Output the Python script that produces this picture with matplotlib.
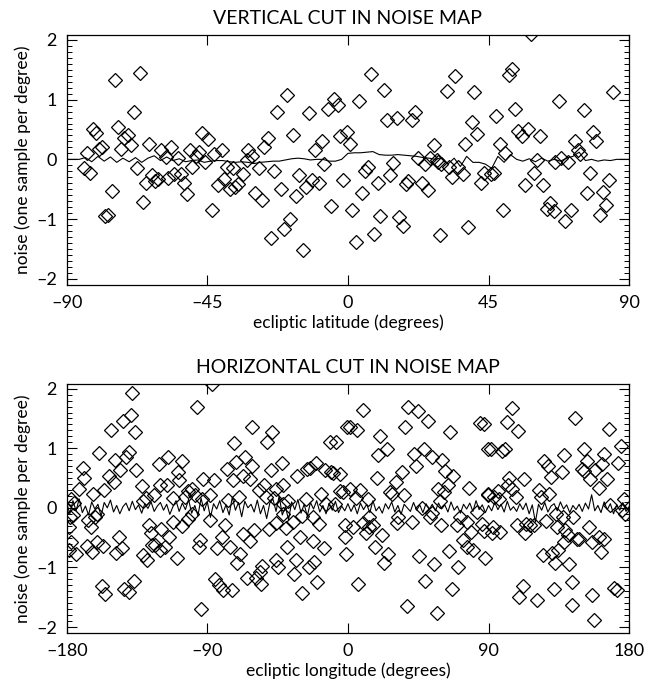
import numpy as np
import matplotlib
matplotlib.use("Agg")
import matplotlib.pyplot as plt
from matplotlib.ticker import MultipleLocator

# ── Top panel: vertical cut (ecliptic latitude) ──────────────────────────────
lat_pts = [
    -83.6, -84.6, -82.7, -81.7, -80.7, -79.8, -78.6, -74.7, -75.6, -77.7,
    -76.9, -73.7, -72.6, -71.5, -70.5, -69.3, -68.5, -67.5, -66.4, -65.6,
    -64.7, -63.5, -62.6, -61.7, -60.7, -59.8, -58.3, -57.5, -56.6, -55.5,
    -54.5, -53.4, -52.3, -51.5, -50.6, -49.8, -48.7, -47.7, -46.8, -45.7,
    -44.7, -43.6, -42.8, -41.5, -40.4, -39.6, -38.7, -37.6, -36.7, -36.1,
    -35.1, -33.5, -32.4, -31.9,
    -30.6, -28.5, -29.6, -27.6, -26.8, -25.7, -24.6, -23.6, -22.6, -21.5,
    -20.5, -19.5, -18.4, -17.5, -16.6, -15.6, -14.5, -13.4, -12.5, -11.6,
    -10.6, -9.3, -8.4, -7.6, -6.5, -5.5, -4.6, -3.3, -2.5, -1.5,
    -0.4, 0.6, 1.4, 2.5, 3.5, 4.4, 5.4, 6.5, 7.4, 8.5,
    9.5, 10.4, 11.5, 12.6, 13.4, 14.5, 15.6, 16.4, 17.5, 18.6,
    19.3, 20.6, 21.4, 22.5, 23.6, 24.6, 25.5, 26.4, 27.4, 28.4,
    29.4,
    28.9, 29.7, 31.6, 32.3, 33.4, 34.4, 35.3, 36.7, 37.4, 38.3,
    39.6, 40.4, 41.3, 42.6, 43.6, 45.9, 46.8, 47.3, 48.6, 49.7,
    50.2, 51.5, 52.6, 53.4, 54.5, 55.8, 56.6, 57.6, 58.5, 59.6,
    60.6, 61.5, 62.5, 63.6, 64.6, 65.8, 66.2, 67.5, 68.3, 69.6,
    70.5, 71.5, 72.6, 73.5, 74.2, 75.6, 76.6, 77.4, 78.5, 79.5,
    80.6, 81.6, 82.7, 83.5, 84.9,
]
lat_noise = [
    0.10, -0.15, -0.23, 0.50, 0.44, 0.18, 0.20, 1.33, -0.53, -0.95,
    -0.93, 0.54, 0.17, 0.35, 0.41, 0.24, 0.79, -0.14, 1.45, -0.71,
    -0.40, 0.25, -0.26, -0.36, -0.33, 0.15, 0.04, -0.31, 0.20, -0.25,
    0.02, -0.25, -0.39, -0.58, 0.15, -0.12, 0.06, 0.13, 0.44, -0.04,
    0.34, -0.85, 0.09, -0.43, 0.15, -0.33, -0.12, -0.49, -0.15, -0.46,
    -0.41, -0.25, -0.01, 0.16,
    0.06, -0.15, -0.56, -0.68, 0.21, 0.35, -1.32, -0.19, 0.80, -0.50,
    -1.16, 1.08, -0.99, 0.41, -0.61, -0.26, -1.52, -0.46, 0.77, -0.34,
    0.16, -0.39, 0.30, -0.07, 0.85, -0.78, 1.01, 0.91, 0.39, -0.34,
    0.46, 0.26, -0.85, -1.38, 0.98, -0.56, -0.19, -0.12, 1.43, -1.25,
    -0.40, -0.94, 1.16, 0.66, -0.26, -0.06, 0.70, -0.96, -1.11, -0.41,
    -0.37, 0.66, 0.80, 0.02, -0.39, -0.07, -0.51, 0.02, 0.24, -0.01,
    -1.27,
    -0.04, -0.07, 1.15, -0.13, -0.29, 1.39, -0.13, -0.25, 0.25, -1.14,
    0.63, 1.12, 0.42, -0.39, -0.23, -0.25, -0.23, 0.72, 0.25, -0.84,
    0.10, 1.41, 1.51, 0.84, 0.48, 0.39, -0.43, 0.50, 2.10, -0.23,
    -0.01, 0.39, -0.43, -0.83, -0.73, -0.86, -0.04, 0.98, 0.03, -1.03,
    -0.04, -0.85, 0.31, 0.16, 0.09, 0.83, -0.57, -0.23, 0.45, 0.31,
    -0.93, -0.55, -0.77, -0.34, 1.12,
]
# running profile, one value every 2 degrees from -90 to 90
lat_line = [
    0.00, 0.00, 0.00, 0.03, -0.04, 0.05, -0.03, 0.04, -0.05, 0.02,
    -0.04, 0.03, -0.05, 0.02, 0.06, -0.02, 0.04, -0.02, 0.01, -0.04,
    -0.02, -0.01, -0.05, -0.03, -0.02, -0.02, -0.04, -0.05, -0.04, -0.05,
    -0.07, -0.05, -0.04, -0.03, -0.03, -0.01, 0.01, 0.02, 0.01, -0.01,
    0.00, 0.00, -0.03, -0.03, 0.00, 0.10, 0.11, 0.11, 0.12, 0.13,
    0.08, 0.07, 0.07, 0.08, 0.07, 0.06, 0.05, 0.03, 0.02, 0.00,
    0.03, -0.08, 0.02, -0.12, 0.05, -0.05, -0.05, -0.08, -0.15, 0.05,
    -0.05, 0.08, 0.00, -0.03, 0.01, -0.04, 0.02, -0.03, 0.00, -0.03,
    0.02, 0.05, 0.12, -0.02, 0.00, -0.03, -0.01, -0.02, 0.00, 0.00,
    0.00,
]

# ── Bottom panel: horizontal cut (ecliptic longitude) ────────────────────────
lon_pts = [
    -137.9, -96.9, -138.6, -143.9, -151.8, -136.4, -159.3, -140.4, -141.9, -148.8,
    -169.5, -146.1, -135.4, -168.9, -153.1, -149.7, -172.3, -156.0, -163.0, -177.4,
    -175.3, -131.8, -131.2, -178.1, -176.0, -166.3, -164.6, -162.1, -160.6, -178.7,
    -177.4, -178.7, -174.1, -167.2, -163.9, -160.4, -156.7, -146.6, -144.3, -148.2,
    -127.5, -125.8, -125.1, -131.2, -128.4, -157.4, -155.2, -143.0, -140.3, -136.6,
    -129.1, -124.1, -120.6, -115.1, -120.4, -115.5, -108.6, -106.1, -108.3, -111.8,
    -119.6, -114.5, -123.6, -120.4, -117.2, -109.7, -111.8, -106.5, -104.4, -102.3,
    -100.1, -98.0, -93.7, -92.7, -94.8, -95.5, -94.2, -102.3, -100.1,
    -86.7, -61.7, -48.9, -52.1, -72.8, -65.6, -71.7, -77.7, -61.1, -42.5,
    -49.5, -85.8, -73.6, -67.4, -62.8, -53.6, -57.2, -45.8, -41.4, -47.0,
    -52.3, -76.7, -69.6, -88.4, -88.4, -78.8, -80.3, -83.8, -75.4, -67.1,
    -62.8, -60.0, -50.6, -46.0, -41.4, -39.7, -68.8, -70.9, -84.8, -82.4,
    -79.8, -74.5, -64.9, -58.6, -56.4, -54.7, -55.9, -45.9, -44.6, -38.2,
    -35.4, -32.9, -30.7, -26.9, -26.1, -24.3, -20.5, -22.2, -22.6, -15.4,
    -18.4, -17.5, -14.7, -11.1, -9.8, -5.1, -11.5, -7.7, -0.4, -38.9,
    -33.3, -34.6, -24.8, -21.8, -19.7, -29.7, -14.1, -8.3, -5.1, -3.0,
    -1.9, -1.9, -1.3, -41.4, -29.7,
    9.8, 38.6, 44.6, 1.3, 5.6, 36.5, 51.5, 65.3, 84.6, 87.3,
    20.5, 24.8, 19.4, 42.5, 48.7, 53.6, 60.4, 43.3, 62.1, 67.5,
    34.8, 30.5, 18.4, 64.3, 57.4, 61.7, 77.5, 89.9, 89.9, 1.3,
    7.7, 4.9, 12.6, 26.9, 28.4, 36.1, 58.9, 47.6, 53.6, 32.2,
    40.8, 52.5, 59.6, 71.7, 69.6, 76.0, 82.4, 85.6, 13.5, 9.8,
    16.2, 13.5, 3.4, 11.3, 22.0, 31.2, 73.9, 78.8, 87.3, 76.0,
    80.3, 17.3, 25.4, 23.3, 45.5, 55.3, 64.7, 70.7, 87.8, 6.2,
    49.3, 66.4, 37.6, 56.8,
    104.9, 101.6, 108.7, 145.4, 167.2, 91.6, 98.9, 100.6, 138.0, 150.8,
    163.6, 174.9, 125.8, 128.0, 137.3, 130.0, 150.1, 152.9, 151.4, 158.2,
    162.5, 172.7, 155.0, 165.7, 160.4, 103.1, 113.0, 102.3, 104.9, 95.9,
    89.9, 93.7, 96.7, 107.5, 122.0, 128.8, 123.6, 177.0, 167.8, 175.3,
    177.4, 93.1, 97.4, 92.0, 108.5, 114.1, 116.6, 118.8, 113.5, 126.6,
    133.7, 139.1, 140.8, 144.3, 146.5, 148.0, 154.4, 156.1, 160.4, 164.2,
    162.1, 138.6, 134.7, 130.5, 125.1, 132.3, 141.2, 112.3, 109.7, 120.9,
    132.2, 143.7, 143.3, 156.5, 157.8, 170.0, 172.1, 133.0, 137.9,
]
lon_noise = [
    1.93, 1.70, 1.55, 1.46, 1.30, 1.28, 0.92, 0.93, 0.85, 0.81,
    0.67, 0.64, 0.64, 0.50, 0.53, 0.43, 0.32, 0.30, 0.23, 0.15,
    0.08, 0.36, 0.11, -0.15, -0.12, -0.21, -0.32, -0.15, -0.10, -0.32,
    -0.57, -0.71, -0.77, -0.64, -0.74, -0.57, -0.64, -0.49, -0.67, -0.76,
    -0.28, -0.43, -0.62, -0.79, -0.88, -1.31, -1.44, -1.37, -1.41, -1.22,
    0.17, 0.21, 0.74, 0.85, 0.38, 0.38, 0.60, 0.78, 0.46, 0.16,
    -0.35, -0.49, -0.63, -0.71, -0.66, -0.84, -0.24, -0.31, 0.18, 0.29,
    0.32, 0.21, 0.15, 0.49, -0.54, -0.66, -1.70, -0.18, -0.10,
    2.07, 1.35, 1.27, 1.11, 1.09, 0.85, 0.77, 0.66, 0.71, 0.76,
    0.63, 0.46, 0.47, 0.53, 0.48, 0.38, 0.30, 0.32, 0.38, 0.16,
    0.18, 0.13, 0.18, 0.21, -0.20, -0.28, -0.49, -0.68, -0.66, -0.44,
    -0.56, -0.37, -0.35, -0.25, -0.11, -0.34, -0.78, -0.93, -1.19, -1.30,
    -1.38, -1.38, -1.17, -1.17, -1.07, -0.98, -1.27, -0.88, -0.99, 0.11,
    -0.24, 0.53, -0.49, 0.15, 0.66, 0.67, 0.75, -0.15, -0.56, -0.68,
    -0.27, 0.24, 0.64, 0.60, 0.58, 0.57, 1.10, 1.10, 1.35, -0.66,
    -0.88, -1.11, -1.00, -0.91, -1.25, -1.43, 0.07, 0.07, 0.29, 0.26,
    -0.29, -0.49, -0.78, 0.07, -0.13,
    1.64, 1.70, 1.62, 1.36, 1.30, 1.36, 1.46, 1.28, 1.43, 1.41,
    1.20, 0.98, 0.88, 0.91, 0.98, 0.86, 0.81, 0.70, 0.61, 0.53,
    0.60, 0.43, 0.50, 0.38, 0.32, 0.26, 0.34, 0.99, 0.21, 0.32,
    0.30, 0.17, 0.15, 0.26, 0.24, 0.21, 0.11, 0.00, -0.09, -0.16,
    -0.24, -0.15, -0.28, -0.15, -0.29, -0.24, -0.07, -0.27, -0.15, -0.25,
    -0.28, -0.32, -0.32, -0.43, -0.45, -0.25, -0.54, -0.40, -0.39, -0.66,
    -0.71, -0.66, -0.77, -0.92, -0.80, -0.95, -0.73, -0.99, -0.84, -1.27,
    -1.23, -1.37, -1.64, -1.76,
    1.67, 1.44, 1.29, 1.50, 1.33, 0.98, 0.96, 0.98, 0.88, 0.98,
    0.91, 1.03, 0.78, 0.70, 0.60, 0.51, 0.66, 0.78, 0.62, 0.63,
    0.74, 0.76, 0.49, 0.49, 0.34, 0.50, 0.49, 0.39, 0.32, 0.29,
    0.24, 0.18, 0.15, 0.19, 0.30, 0.24, 0.18, 0.14, 0.04, -0.04,
    -0.10, -0.32, -0.40, -0.43, -0.28, -0.27, -0.29, -0.28, -0.42, -0.22,
    -0.33, -0.38, -0.46, -0.15, -0.52, -0.52, -0.33, -0.57, -0.49, -0.53,
    -0.74, -0.57, -0.70, -0.76, -0.79, -0.93, -0.95, -1.32, -1.49, -1.55,
    -1.36, -1.24, -1.63, -1.46, -1.88, -1.35, -1.38, -0.10, -0.15,
]
# running profile, one value every 2 degrees from -180 to 180
lon_line = [
    0.08, -0.10, 0.12, -0.05, 0.15, -0.08, 0.03, -0.12, 0.10, -0.02,
    0.06, -0.14, 0.09, 0.00, 0.13, -0.07, 0.04, -0.10, 0.02, 0.08,
    -0.05, 0.11, -0.03, 0.05, -0.09, 0.07, -0.01, 0.10, -0.06, 0.03,
    0.09,
    -0.04, 0.06, -0.11, 0.02, 0.12, -0.06, 0.08, -0.03, 0.14, -0.09,
    0.04, -0.13, 0.16, -0.05, 0.10, -0.16, 0.07, -0.02, 0.12, -0.08,
    0.05, -0.12, 0.18, -0.04, 0.09, -0.15, 0.11, 0.00, 0.06, -0.07,
    0.13, -0.10, 0.04, -0.18, 0.08, 0.15, -0.06, 0.20, -0.12, 0.02,
    -0.20, 0.10, -0.03, 0.14, -0.09, 0.06, -0.14, 0.09, -0.02, 0.12,
    -0.07, 0.04, -0.10, 0.08, -0.04, 0.11, -0.08, 0.03, -0.05, 0.07,
    -0.06, 0.05, -0.10, 0.08, -0.03, 0.06, -0.08, 0.12, -0.05, 0.02,
    -0.09, 0.07, -0.02, 0.10, -0.07, 0.04, -0.11, 0.06, 0.00, -0.06,
    0.09, -0.04, 0.05, -0.08, 0.07, -0.03, 0.06, -0.05, 0.08, -0.02,
    0.05, -0.07, 0.10, -0.04, 0.03, -0.09, 0.06, -0.02, 0.08, -0.06,
    0.12, -0.03, 0.05, -0.08, 0.04, -0.05, 0.09, -0.03, 0.06, -0.07,
    0.11, -0.04, 0.02, -0.06, 0.07, -0.03, 0.08, -0.10, 0.05, -0.24,
    0.06, -0.04, 0.09, -0.07, 0.03, 0.07, -0.05, 0.10, -0.02, 0.05,
    -0.08, 0.04, -0.03, 0.06, -0.06, 0.08, -0.02, 0.22, -0.05, 0.04,
    -0.08, 0.10, -0.03, 0.07, -0.10, 0.05, -0.04, 0.09, -0.06, 0.02,
]

lat_ticks = [-90, -45, 0, 45, 90]
lon_ticks = [-180, -90, 0, 90, 180]
y_ticks = [-2, -1, 0, 1, 2]

plt.rcParams.update({
    "font.family": ["Lato", "DejaVu Sans"],
    "xtick.direction": "in",
    "ytick.direction": "in",
    "xtick.top": True,
    "ytick.right": True,
})


def style_axes(ax, xticks, xlabel, title):
    ax.set_xticks(xticks)
    ax.set_xticklabels([str(t).replace("-", "\u2013") for t in xticks])
    ax.set_yticks(y_ticks)
    ax.set_yticklabels([str(t).replace("-", "\u2013") for t in y_ticks])
    ax.yaxis.set_minor_locator(MultipleLocator(0.1))
    ax.set_ylim(-2.1, 2.08)
    ax.set_xlim(xticks[0], xticks[-1])
    ax.tick_params(which="major", length=7, width=0.8, labelsize=13, pad=7)
    ax.tick_params(which="minor", length=3.5, width=0.7)
    ax.set_xlabel(xlabel, fontsize=12.5, labelpad=3)
    ax.set_ylabel("noise (one sample per degree)", fontsize=12.5, labelpad=4)
    ax.set_title(title, fontsize=14, pad=8)
    for s in ax.spines.values():
        s.set_linewidth(0.9)


fig = plt.figure(figsize=(6.45, 6.88), dpi=100)
ax1 = fig.add_axes([0.1034, 0.586, 0.872, 0.363])
ax2 = fig.add_axes([0.1034, 0.080, 0.872, 0.362])

mk = dict(marker="D", ms=7.5, mfc="none", mec="black", mew=0.9, ls="none")

ax1.plot(lat_pts, lat_noise, **mk)
ax1.plot(np.arange(-90, 91, 2), lat_line, color="black", lw=0.8)
style_axes(ax1, lat_ticks, "ecliptic latitude (degrees)", "VERTICAL CUT IN NOISE MAP")

ax2.plot(lon_pts, lon_noise, **mk)
ax2.plot(np.arange(-180, 181, 2), lon_line, color="black", lw=0.8)
style_axes(ax2, lon_ticks, "ecliptic longitude (degrees)", "HORIZONTAL CUT IN NOISE MAP")

fig.savefig("out.png", dpi=100)
